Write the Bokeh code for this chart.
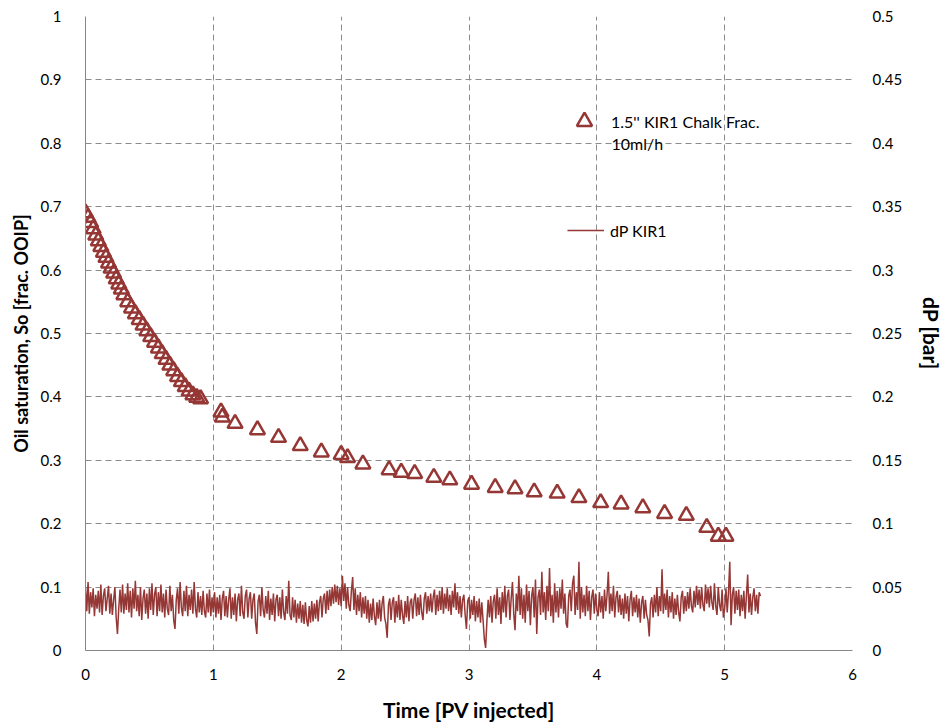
from bokeh.plotting import figure
from bokeh.models import (Range1d, LinearAxis, FixedTicker, CustomJSTickFormatter,
                          Legend, LegendItem, Label)
from bokeh.embed import file_html
from bokeh.resources import INLINE

# ---------------- data ----------------
so_pv = [0.00, 0.02, 0.04, 0.06, 0.08, 0.10, 0.12, 0.14, 0.16, 0.18,
         0.20, 0.22, 0.24, 0.26, 0.28, 0.30, 0.33, 0.36, 0.39, 0.42,
         0.45, 0.48, 0.51, 0.54, 0.57, 0.60, 0.63, 0.66, 0.69, 0.72,
         0.75, 0.78, 0.81, 0.84, 0.87, 0.90,
         1.06, 1.07, 1.17, 1.345, 1.51, 1.68, 1.845, 2.00, 2.05, 2.17,
         2.375, 2.47, 2.575, 2.725, 2.85, 3.02, 3.205, 3.36, 3.51, 3.69,
         3.86, 4.03, 4.19, 4.36, 4.53, 4.70, 4.86, 4.95, 5.01]
so_val = [0.690, 0.683, 0.675, 0.665, 0.655, 0.646, 0.637, 0.628, 0.620, 0.611,
          0.603, 0.595, 0.586, 0.578, 0.570, 0.561, 0.550, 0.540, 0.531, 0.522,
          0.513, 0.504, 0.495, 0.486, 0.477, 0.468, 0.459, 0.450, 0.441, 0.432,
          0.424, 0.416, 0.409, 0.403, 0.399, 0.397,
          0.376, 0.368, 0.358, 0.348, 0.336, 0.323, 0.313, 0.309, 0.304, 0.294,
          0.285, 0.281, 0.279, 0.273, 0.269, 0.262, 0.257, 0.255, 0.250, 0.248,
          0.241, 0.233, 0.231, 0.225, 0.216, 0.213, 0.194, 0.180, 0.180]

dp_step = 0.01  # PV between dP readings
dp_bar = [
    0.050, 0.031, 0.054, 0.029, 0.046, 0.034, 0.049, 0.027, 0.044, 0.033,
    0.047, 0.030, 0.052, 0.028, 0.043, 0.049, 0.031, 0.041, 0.051, 0.029,
    0.045, 0.028, 0.040, 0.050, 0.026, 0.013, 0.033, 0.048, 0.030, 0.052,
    0.029, 0.045, 0.032, 0.053, 0.030, 0.047, 0.026, 0.049, 0.033, 0.055,
    0.031, 0.044, 0.027, 0.050, 0.024, 0.041, 0.048, 0.029, 0.045, 0.025,
    0.049, 0.032, 0.053, 0.028, 0.044, 0.050, 0.027, 0.046, 0.031, 0.052,
    0.030, 0.045, 0.026, 0.048, 0.033, 0.028, 0.051, 0.031, 0.044, 0.024,
    0.017, 0.040, 0.049, 0.029, 0.054, 0.034, 0.027, 0.047, 0.031, 0.051,
    0.027, 0.044, 0.032, 0.048, 0.029, 0.054, 0.033, 0.026, 0.046, 0.030,
    0.043, 0.028, 0.047, 0.031, 0.026, 0.045, 0.030, 0.048, 0.027, 0.042,
    0.030, 0.046, 0.026, 0.042, 0.029, 0.044, 0.024, 0.041, 0.047, 0.027,
    0.043, 0.026, 0.040, 0.049, 0.025, 0.042, 0.028, 0.045, 0.023, 0.040,
    0.045, 0.027, 0.051, 0.030, 0.025, 0.043, 0.048, 0.026, 0.041, 0.046,
    0.025, 0.040, 0.045, 0.022, 0.013, 0.039, 0.044, 0.027, 0.050, 0.032,
    0.026, 0.043, 0.029, 0.047, 0.024, 0.041, 0.028, 0.045, 0.023, 0.040,
    0.044, 0.027, 0.042, 0.025, 0.048, 0.030, 0.024, 0.043, 0.029, 0.055,
    0.028, 0.024, 0.042, 0.026, 0.040, 0.022, 0.037, 0.025, 0.039, 0.022,
    0.036, 0.021, 0.038, 0.024, 0.019, 0.035, 0.022, 0.039, 0.023, 0.037,
    0.025, 0.040, 0.023, 0.038, 0.043, 0.026, 0.041, 0.045, 0.029, 0.047,
    0.032, 0.048, 0.035, 0.050, 0.037, 0.052, 0.038, 0.051, 0.036, 0.049,
    0.035, 0.059, 0.039, 0.053, 0.033, 0.050, 0.036, 0.031, 0.047, 0.058,
    0.032, 0.049, 0.028, 0.044, 0.031, 0.046, 0.026, 0.042, 0.029, 0.043,
    0.025, 0.040, 0.022, 0.037, 0.024, 0.041, 0.027, 0.020, 0.038, 0.025,
    0.040, 0.023, 0.037, 0.043, 0.026, 0.021, 0.010, 0.036, 0.041, 0.024,
    0.038, 0.042, 0.022, 0.039, 0.026, 0.044, 0.024, 0.040, 0.028, 0.021,
    0.039, 0.026, 0.043, 0.023, 0.038, 0.041, 0.025, 0.040, 0.045, 0.027,
    0.042, 0.028, 0.044, 0.030, 0.024, 0.041, 0.046, 0.029, 0.043, 0.031,
    0.045, 0.030, 0.042, 0.048, 0.028, 0.044, 0.031, 0.047, 0.032, 0.050,
    0.029, 0.045, 0.033, 0.049, 0.031, 0.044, 0.028, 0.047, 0.034, 0.053,
    0.032, 0.046, 0.029, 0.043, 0.026, 0.040, 0.044, 0.028, 0.017, 0.039,
    0.042, 0.025, 0.040, 0.028, 0.043, 0.023, 0.039, 0.026, 0.041, 0.022,
    0.038, 0.024, 0.009, 0.002, 0.023, 0.040, 0.026, 0.043, 0.022, 0.039,
    0.044, 0.025, 0.049, 0.028, 0.042, 0.021, 0.046, 0.030, 0.051, 0.026,
    0.043, 0.048, 0.024, 0.041, 0.054, 0.029, 0.016, 0.045, 0.031, 0.059,
    0.028, 0.049, 0.025, 0.044, 0.022, 0.052, 0.031, 0.047, 0.020, 0.043,
    0.050, 0.026, 0.056, 0.013, 0.042, 0.048, 0.028, 0.062, 0.030, 0.046,
    0.024, 0.051, 0.031, 0.065, 0.027, 0.044, 0.022, 0.053, 0.030, 0.047,
    0.026, 0.049, 0.033, 0.056, 0.029, 0.045, 0.021, 0.018, 0.043, 0.048,
    0.031, 0.053, 0.059, 0.028, 0.046, 0.032, 0.070, 0.025, 0.050, 0.030,
    0.044, 0.027, 0.051, 0.031, 0.047, 0.024, 0.042, 0.048, 0.029, 0.045,
    0.032, 0.027, 0.046, 0.030, 0.043, 0.025, 0.048, 0.031, 0.044, 0.062,
    0.029, 0.045, 0.031, 0.051, 0.026, 0.042, 0.047, 0.030, 0.044, 0.028,
    0.041, 0.025, 0.045, 0.029, 0.043, 0.023, 0.040, 0.047, 0.027, 0.042,
    0.030, 0.044, 0.026, 0.041, 0.022, 0.038, 0.043, 0.025, 0.040, 0.028,
    0.024, 0.011, 0.037, 0.042, 0.026, 0.044, 0.030, 0.050, 0.027, 0.043,
    0.031, 0.064, 0.029, 0.045, 0.032, 0.048, 0.026, 0.043, 0.030, 0.046,
    0.025, 0.041, 0.028, 0.044, 0.030, 0.023, 0.042, 0.047, 0.029, 0.043,
    0.031, 0.046, 0.033, 0.049, 0.035, 0.030, 0.047, 0.034, 0.051, 0.036,
    0.048, 0.033, 0.050, 0.036, 0.031, 0.052, 0.037, 0.049, 0.034, 0.051,
    0.038, 0.032, 0.053, 0.035, 0.028, 0.050, 0.036, 0.031, 0.048, 0.026,
    0.033, 0.049, 0.030, 0.046, 0.070, 0.020, 0.044, 0.050, 0.029, 0.047,
    0.032, 0.048, 0.027, 0.044, 0.031, 0.047, 0.025, 0.043, 0.060, 0.030,
    0.045, 0.028, 0.042, 0.049, 0.031, 0.044, 0.029, 0.046, 0.043]
dp_pv = [round(i * dp_step, 4) for i in range(len(dp_bar))]

x_ticks = [0, 1, 2, 3, 4, 5, 6]
y_ticks = [0, 0.1, 0.2, 0.3, 0.4, 0.5, 0.6, 0.7, 0.8, 0.9, 1]
y2_ticks = [0, 0.05, 0.1, 0.15, 0.2, 0.25, 0.3, 0.35, 0.4, 0.45, 0.5]

so_label_1 = "1.5'' KIR1 Chalk Frac."
so_label_2 = "10ml/h"
dp_label = "dP KIR1"

# ---------------- styling ----------------
RED = "#953735"
GRID = "#8c8c8c"
FONT = "Lato"

p = figure(width=947, height=724, output_backend="svg", toolbar_location=None,
           x_range=Range1d(0, 6), y_range=Range1d(0, 1),
           min_border_left=85, min_border_right=89, min_border_top=16,
           min_border_bottom=74, outline_line_color=None,
           background_fill_color="white", border_fill_color="white")
p.extra_y_ranges = {"dp": Range1d(0, 0.5)}

fmt = CustomJSTickFormatter(code="return String(Math.round(tick*1000)/1000);")

p.xaxis.ticker = FixedTicker(ticks=x_ticks)
p.yaxis.ticker = FixedTicker(ticks=y_ticks)
p.xaxis.formatter = fmt
p.yaxis.formatter = fmt

right = LinearAxis(y_range_name="dp", ticker=FixedTicker(ticks=y2_ticks), formatter=fmt)
p.add_layout(right, "right")

p.xaxis.axis_label = "Time [PV injected]"
p.yaxis.axis_label = "Oil saturation, So [frac. OOIP]"
right.axis_label = "dP [bar]"

for ax in [p.xaxis[0], p.yaxis[0], right]:
    ax.major_tick_line_color = None
    ax.minor_tick_line_color = None
    ax.major_tick_out = 0
    ax.major_tick_in = 0
    ax.major_label_text_font = FONT
    ax.major_label_text_font_size = "15px"
    ax.major_label_text_color = "#000000"
    ax.axis_label_text_font = FONT
    ax.axis_label_text_font_size = "21px"
    ax.axis_label_text_font_style = "bold"
    ax.axis_label_text_color = "#000000"
    ax.axis_line_color = "#868686"
    ax.axis_line_width = 1

p.yaxis[0].axis_label_text_font_size = "18px"
right.axis_line_color = None
p.yaxis[0].major_label_standoff = 24
p.yaxis[0].axis_label_standoff = 6
right.major_label_standoff = 20
right.axis_label_standoff = 14
p.xaxis[0].major_label_standoff = 18
p.xaxis[0].axis_label_standoff = 14

p.xgrid.ticker = FixedTicker(ticks=x_ticks)
p.ygrid.ticker = FixedTicker(ticks=y_ticks)
for g in [p.xgrid[0], p.ygrid[0]]:
    g.grid_line_color = GRID
    g.grid_line_dash = "6 4"
    g.grid_line_width = 1

dp_r = p.line(dp_pv, dp_bar, y_range_name="dp", line_color=RED, line_width=1.5)
so_r = p.scatter(so_pv, so_val, marker="triangle", size=15, fill_color=None,
                 line_color=RED, line_width=2.5)

leg1 = Legend(items=[LegendItem(label=so_label_1, renderers=[so_r])],
              location=(480, 510), glyph_width=38, glyph_height=38,
              label_standoff=8, padding=0, margin=0, border_line_color=None,
              background_fill_alpha=0, label_text_font=FONT,
              label_text_font_size="16px", label_text_color="#000000")
leg2 = Legend(items=[LegendItem(label=dp_label, renderers=[dp_r])],
              location=(482, 410), glyph_width=37, glyph_height=20,
              label_standoff=6, padding=0, margin=0, border_line_color=None,
              background_fill_alpha=0, label_text_font=FONT,
              label_text_font_size="16px", label_text_color="#000000")
p.add_layout(leg1)
p.add_layout(leg2)

lab2 = Label(x=526, y=507, x_units="screen", y_units="screen", text=so_label_2,
             text_font=FONT, text_font_size="16px", text_color="#000000",
             text_baseline="middle", text_align="left")
p.add_layout(lab2)

open("out.html", "w").write(file_html(p, INLINE))
